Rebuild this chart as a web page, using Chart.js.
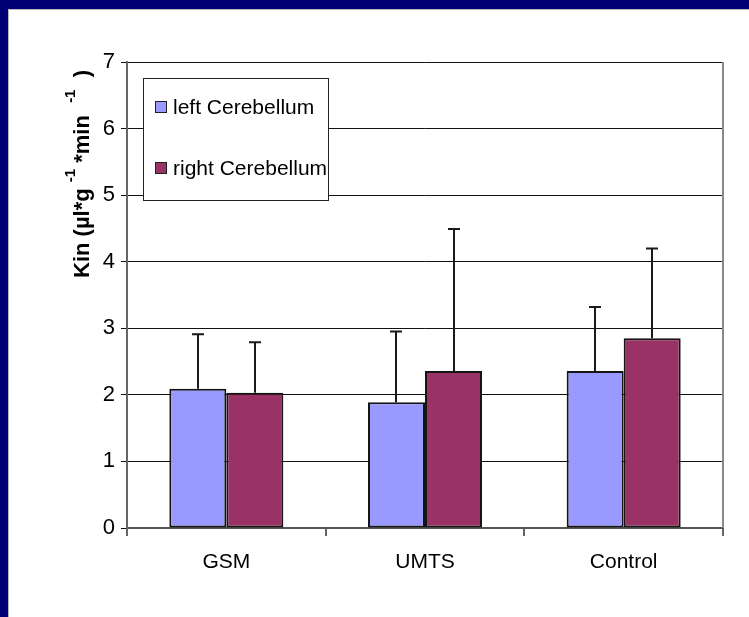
<!DOCTYPE html>
<html>
<head>
<meta charset="utf-8">
<script src="https://cdn.jsdelivr.net/npm/chart.js@4.4.1/dist/chart.umd.min.js"></script>
<style>
  html, body { margin: 0; padding: 0; background: #fff; overflow: hidden; }
  #wrap { width: 749px; height: 617px; position: relative; }
</style>
</head>
<body>
<div id="wrap"><canvas id="c" width="749" height="617"></canvas></div>
<script>
// Kin values per exposure group, left and right cerebellum, with their standard deviations
const categories = ['GSM', 'UMTS', 'Control'];
const seriesNames = ['left Cerebellum', 'right Cerebellum'];
const leftMeans = [2.09, 1.89, 2.36];
const rightMeans = [2.03, 2.36, 2.85];
const leftSD = [0.82, 1.06, 0.96];
const rightSD = [0.76, 2.13, 1.35];
const yTicks = [0, 1, 2, 3, 4, 5, 6, 7];
const seriesColors = ['#9999FF', '#993366'];

const FONT = '"Liberation Sans", Arial, sans-serif';

// Navy slide frame with a white panel
const framePlugin = {
  id: 'frame',
  beforeDraw(chart) {
    const { ctx, width, height } = chart;
    ctx.save();
    ctx.fillStyle = '#000074';
    ctx.fillRect(0, 0, width, height);
    ctx.fillStyle = '#ffffff';
    ctx.fillRect(8, 9, width - 8, height - 9);
    ctx.strokeStyle = '#b8b8b8';
    ctx.lineWidth = 1;
    ctx.beginPath();
    ctx.moveTo(8.5, height);
    ctx.lineTo(8.5, 9.5);
    ctx.lineTo(width, 9.5);
    ctx.stroke();
    ctx.restore();
  },
  beforeDatasetsDraw(chart) {
    const { ctx, chartArea } = chart;
    ctx.save();
    ctx.strokeStyle = '#8a8a8a';
    ctx.lineWidth = 2;
    ctx.beginPath();
    ctx.moveTo(chartArea.right, chartArea.top);
    ctx.lineTo(chartArea.right, chartArea.bottom);
    ctx.stroke();
    ctx.restore();
  }
};

// Upper error whiskers, one per bar
const errorPlugin = {
  id: 'errorBars',
  afterDatasetsDraw(chart) {
    const { ctx } = chart;
    const yScale = chart.scales.y;
    const sds = [leftSD, rightSD];
    ctx.save();
    ctx.strokeStyle = '#1a1a1a';
    ctx.lineWidth = 2;
    chart.data.datasets.forEach((ds, i) => {
      const meta = chart.getDatasetMeta(i);
      meta.data.forEach((bar, j) => {
        const top = yScale.getPixelForValue(ds.data[j] + sds[i][j]);
        const x = Math.round(bar.x);
        ctx.beginPath();
        ctx.moveTo(x, bar.y);
        ctx.lineTo(x, top);
        ctx.moveTo(x - 6, top);
        ctx.lineTo(x + 6, top);
        ctx.stroke();
      });
    });
    ctx.restore();
  }
};

// Boxed legend placed inside the plot area
const boxLegendPlugin = {
  id: 'boxLegend',
  afterDraw(chart) {
    const { ctx, chartArea } = chart;
    const x0 = chartArea.left + 16, y0 = chartArea.top + 16;
    const w = 185, h = 122;
    ctx.save();
    ctx.fillStyle = '#ffffff';
    ctx.fillRect(x0, y0, w, h);
    ctx.strokeStyle = '#222';
    ctx.lineWidth = 1;
    ctx.strokeRect(x0 + 0.5, y0 + 0.5, w, h);
    ctx.font = '21px ' + FONT;
    ctx.textBaseline = 'middle';
    ctx.textAlign = 'left';
    chart.data.datasets.forEach((ds, i) => {
      const cy = y0 + 29 + i * 61;
      ctx.fillStyle = ds.backgroundColor;
      ctx.fillRect(x0 + 12, cy - 6, 12, 12);
      ctx.strokeStyle = '#222';
      ctx.strokeRect(x0 + 12.5, cy - 5.5, 11, 11);
      ctx.fillStyle = '#000';
      ctx.fillText(ds.label, x0 + 30, cy + 1);
    });
    ctx.restore();
  }
};

// Rotated y-axis title with superscript exponents
const yTitlePlugin = {
  id: 'yTitle',
  afterDraw(chart) {
    const { ctx } = chart;
    const parts = [
      { t: 'Kin (\u00b5l*g ', sup: false },
      { t: '-1', sup: true },
      { t: ' *min  ', sup: false },
      { t: '-1', sup: true },
      { t: '  )', sup: false }
    ];
    ctx.save();
    ctx.translate(89, 278);
    ctx.rotate(-Math.PI / 2);
    ctx.fillStyle = '#000';
    ctx.textBaseline = 'alphabetic';
    ctx.textAlign = 'left';
    let x = 0;
    parts.forEach(p => {
      ctx.font = (p.sup ? 'bold 15px ' : 'bold 22px ') + FONT;
      ctx.fillText(p.t, x, p.sup ? -14 : 0);
      x += ctx.measureText(p.t).width;
    });
    ctx.restore();
  }
};

const chart = new Chart(document.getElementById('c'), {
  type: 'bar',
  data: {
    labels: categories,
    datasets: [
      { label: seriesNames[0], data: leftMeans, backgroundColor: seriesColors[0] },
      { label: seriesNames[1], data: rightMeans, backgroundColor: seriesColors[1] }
    ]
  },
  options: {
    responsive: false,
    animation: false,
    devicePixelRatio: 1,
    layout: { padding: { top: 62, right: 26, left: 0, bottom: 0 } },
    datasets: {
      bar: {
        categoryPercentage: 0.574,
        barPercentage: 1.0,
        borderColor: '#151515',
        borderWidth: 2,
        borderSkipped: false
      }
    },
    plugins: {
      legend: { display: false },
      tooltip: { enabled: false }
    },
    scales: {
      x: {
        grid: {
          offset: true,
          drawOnChartArea: false,
          drawTicks: true,
          tickLength: 8,
          color: '#666',
          lineWidth: 2
        },
        border: { display: true, color: '#555', width: 2 },
        ticks: { color: '#000', font: { family: FONT, size: 21 }, padding: 14 },
        afterFit(scale) { scale.height = 89; }
      },
      y: {
        min: yTicks[0],
        max: yTicks[yTicks.length - 1],
        afterBuildTicks(scale) { scale.ticks = yTicks.map(v => ({ value: v })); },
        grid: { color: '#111', lineWidth: 1, tickLength: 6 },
        border: { display: true, color: '#666', width: 2 },
        ticks: { color: '#000', font: { family: FONT, size: 22 }, padding: 6 },
        afterFit(scale) { scale.width = 127; }
      }
    }
  },
  plugins: [framePlugin, errorPlugin, boxLegendPlugin, yTitlePlugin]
});
</script>
</body>
</html>
